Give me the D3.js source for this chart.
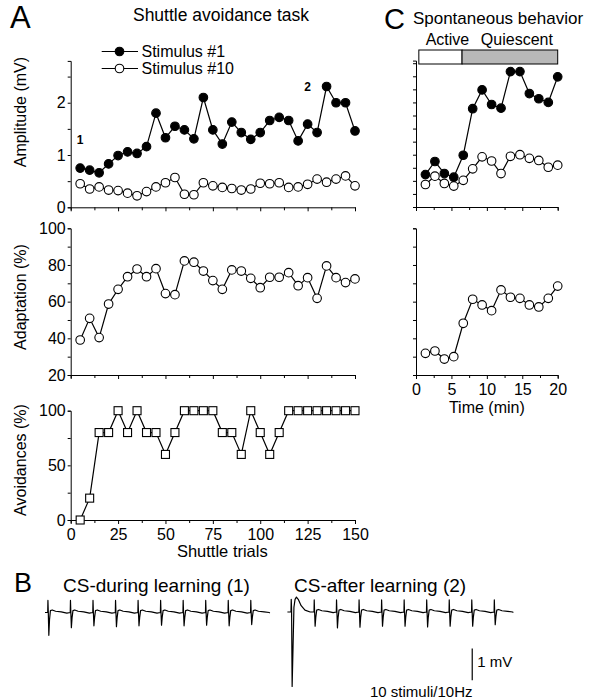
<!DOCTYPE html>
<html>
<head>
<meta charset="utf-8">
<script src="https://cdn.jsdelivr.net/npm/d3@7"></script>
<style>
    body { margin: 0; background: #fff; }
    svg text { font-family: "Liberation Sans", Arial, Helvetica, sans-serif; fill: #000; }
    .axis path, .axis line { stroke: #000; stroke-width: 1; }
</style>
</head>
<body>
<div id="chart"></div>
<script>
// ---- panel A data (shuttle avoidance task) ----
const trials = [5, 10, 15, 20, 25, 30, 35, 40, 45, 50, 55, 60, 65, 70, 75,
    80, 85, 90, 95, 100, 105, 110, 115, 120, 125, 130, 135, 140, 145, 150];
const ampStim1 = [0.75, 0.71, 0.66, 0.83, 0.99, 1.06, 1.03, 1.16, 1.80, 1.33, 1.55, 1.48, 1.31, 2.10, 1.48,
    1.21, 1.63, 1.43, 1.30, 1.43, 1.66, 1.72, 1.66, 1.27, 1.59, 1.43, 2.31, 2.00, 2.00, 1.46];
const ampStim10 = [0.45, 0.35, 0.39, 0.33, 0.32, 0.27, 0.22, 0.30, 0.39, 0.47, 0.57, 0.25, 0.24, 0.47, 0.41,
    0.38, 0.36, 0.33, 0.35, 0.46, 0.45, 0.47, 0.38, 0.39, 0.44, 0.54, 0.48, 0.54, 0.60, 0.41];
const adaptation = [39.1, 50.9, 40.4, 58.7, 66.7, 73.6, 77.8, 73.6, 78.0, 64.4, 63.8, 82.2, 81.5, 76.7, 71.5,
    66.7, 77.3, 76.7, 72.7, 67.6, 73.3, 73.3, 75.8, 68.7, 73.1, 61.8, 79.5, 73.1, 70.4, 72.4];
const avoidances = [0, 20, 80, 80, 100, 80, 100, 80, 80, 60, 80, 100, 100, 100, 100,
    80, 80, 60, 100, 80, 60, 80, 100, 100, 100, 100, 100, 100, 100, 100];

// ---- panel C data (spontaneous behavior) ----
const timeMin = [1.33, 2.67, 4, 5.33, 6.67, 8, 9.33, 10.67, 12, 13.33, 14.67, 16, 17.33, 18.67, 20];
const spAmpStim1 = [0.62, 0.87, 0.64, 0.57, 0.99, 1.88, 2.24, 1.96, 1.89, 2.59, 2.59, 2.17, 2.07, 2.00, 2.49];
const spAmpStim10 = [0.43, 0.59, 0.45, 0.40, 0.51, 0.73, 0.96, 0.88, 0.64, 0.97, 1.00, 0.93, 0.89, 0.76, 0.80];
const spAdaptation = [31.8, 33.1, 28.7, 30.0, 48.2, 61.3, 58.2, 55.1, 66.4, 62.4, 61.8, 58.2, 57.1, 61.8, 68.5];
const phaseNames = ["Active", "Quiescent"];
const phaseStart = [0.4, 6.5];
const phaseEnd = [6.5, 20];

// ---- panel B data (recorded traces, ms / mV) ----
const stimMs1 = [12, 112, 212, 312, 412, 512, 612, 712, 812, 912];
const respMv1 = [0.72, 0.48, 0.42, 0.45, 0.42, 0.40, 0.42, 0.40, 0.42, 0.38];
const stimMs2 = [118, 217, 317, 417, 517, 617, 717, 817, 917];
const respMv2 = [0.45, 0.50, 0.48, 0.45, 0.45, 0.47, 0.45, 0.45, 0.40];
// shape of one stimulus response: artefact part + response part scaled by amplitude
const spikeMs = [0, 1, 2.5, 5, 8, 12, 20, 35, 60, 85];
const spikeArtMv = [0, 0.38, 0.05, 0, -0.05, 0.06, 0.08, 0.04, 0.02, -0.02];
const spikeShape = [0, 0, 0, -1, -0.25, 0, 0, 0, 0, 0];
// first (large) field potential of trace 2
const firstFpStart = 16;
const firstFpMs = [0, 1, 2.5, 5, 9, 13, 18, 24, 32, 45, 62, 85];
const firstFpMv = [0, 0.40, 0.10, -2.35, -1.10, 0.15, 0.40, 0.47, 0.40, 0.20, 0.06, 0];

// ---- tick values ----
const trialTicks = [0, 25, 50, 75, 100, 125, 150];
const trialMinor = [12.5, 37.5, 62.5, 87.5, 112.5, 137.5];
const ampTicks = [0, 1, 2];
const ampMinor = [0.5, 1.5, 2.5];
const adaptTicks = [20, 40, 60, 80, 100];
const adaptMinor = [30, 50, 70, 90];
const avoidTicks = [0, 50, 100];
const avoidMinor = [25, 75];
const timeTicks = [0, 5, 10, 15, 20];
const timeMinor = [2.5, 7.5, 12.5, 17.5];
const spAmpTicks = [0, 0.25, 0.5, 0.75, 1, 1.25, 1.5, 1.75, 2, 2.25, 2.5, 2.75];

const svg = d3.select("#chart")
    .append("svg")
    .attr("width", 589)
    .attr("height", 700);

// scales
const xA = d3.scaleLinear().domain([0, 150]).range([70.7, 355]);
const yAmp = d3.scaleLinear().domain([0, 2.8]).range([207.3, 60.9]);
const yAdapt = d3.scaleLinear().domain([20, 100]).range([375, 228.3]);
const yAvoid = d3.scaleLinear().domain([0, 100]).range([520, 410.7]);
const xC = d3.scaleLinear().domain([0, 20]).range([416, 557.7]);
const yAmpC = d3.scaleLinear().domain([0, 2.8]).range([207, 60.6]);

// axis helpers
function bottomAxis(scale, y, major, minor, labels) {
    const g = svg.append("g").attr("class", "axis")
        .attr("transform", `translate(0,${y})`)
        .call(d3.axisBottom(scale).tickValues(major.concat(minor).sort((a, b) => a - b))
            .tickSizeOuter(0).tickSize(3).tickPadding(6)
            .tickFormat(d => labels && major.includes(d) ? d : ""));
    g.selectAll(".tick text").style("font-size", "16px");
    g.selectAll(".tick line").attr("y2", d => major.includes(d) ? 4 : 3);
    return g;
}

function leftAxis(scale, x, major, minor, labels) {
    const g = svg.append("g").attr("class", "axis")
        .attr("transform", `translate(${x},0)`)
        .call(d3.axisLeft(scale).tickValues(major.concat(minor).sort((a, b) => a - b))
            .tickSizeOuter(0).tickSize(3).tickPadding(2)
            .tickFormat(d => labels && major.includes(d) ? d : ""));
    g.selectAll(".tick text").style("font-size", "16px");
    return g;
}

function yTitle(text, x, y) {
    svg.append("text")
        .attr("transform", `translate(${x},${y}) rotate(-90)`)
        .attr("text-anchor", "middle")
        .style("font-size", "16px")
        .text(text);
}

function series(xs, ys, x, y, filled, shape) {
    svg.append("path")
        .datum(ys)
        .attr("fill", "none")
        .attr("stroke", "#000")
        .attr("stroke-width", 1.2)
        .attr("d", d3.line().x((d, i) => x(xs[i])).y(d => y(d)));
    if (shape === "square") {
        svg.selectAll(null)
            .data(ys)
            .enter()
            .append("rect")
            .attr("x", (d, i) => x(xs[i]) - 4)
            .attr("y", d => y(d) - 4)
            .attr("width", 8)
            .attr("height", 8)
            .attr("fill", "#fff")
            .attr("stroke", "#000")
            .attr("stroke-width", 1.1);
    } else {
        svg.selectAll(null)
            .data(ys)
            .enter()
            .append("circle")
            .attr("cx", (d, i) => x(xs[i]))
            .attr("cy", d => y(d))
            .attr("r", 4.3)
            .attr("fill", filled ? "#000" : "#fff")
            .attr("stroke", "#000")
            .attr("stroke-width", 1.1);
    }
}

// ---------------- panel A ----------------
svg.append("text").attr("x", 10).attr("y", 28).style("font-size", "31px").text("A");
svg.append("text").attr("x", 221).attr("y", 21).attr("text-anchor", "middle")
    .style("font-size", "17.5px").text("Shuttle avoidance task");

// amplitude
leftAxis(yAmp, xA(0), ampTicks, ampMinor, true);
bottomAxis(xA, yAmp(0), trialTicks, trialMinor, false);
yTitle("Amplitude (mV)", 26, 112);
series(trials, ampStim10, xA, yAmp, false);
series(trials, ampStim1, xA, yAmp, true);
svg.append("text").attr("x", xA(5)).attr("y", 144).attr("text-anchor", "middle")
    .style("font-size", "12px").style("font-weight", "bold").text("1");
svg.append("text").attr("x", xA(125)).attr("y", 91).attr("text-anchor", "middle")
    .style("font-size", "12px").style("font-weight", "bold").text("2");

// legend
const legend = [{label: "Stimulus #1", filled: true, y: 51.5}, {label: "Stimulus #10", filled: false, y: 68.5}];
legend.forEach(l => {
    svg.append("line").attr("x1", 101.7).attr("x2", 138).attr("y1", l.y).attr("y2", l.y)
        .attr("stroke", "#000").attr("stroke-width", 1.2);
    svg.append("circle").attr("cx", 119.5).attr("cy", l.y).attr("r", 4.3)
        .attr("fill", l.filled ? "#000" : "#fff").attr("stroke", "#000").attr("stroke-width", 1.1);
    svg.append("text").attr("x", 141.5).attr("y", l.y + 5.8).style("font-size", "16px").text(l.label);
});

// adaptation
leftAxis(yAdapt, xA(0), adaptTicks, adaptMinor, true);
bottomAxis(xA, yAdapt(20), trialTicks, trialMinor, false);
yTitle("Adaptation (%)", 26, 297);
series(trials, adaptation, xA, yAdapt, false);

// avoidances
leftAxis(yAvoid, xA(0), avoidTicks, avoidMinor, true);
bottomAxis(xA, yAvoid(0), trialTicks, trialMinor, true);
yTitle("Avoidances (%)", 26, 460);
series(trials, avoidances, xA, yAvoid, false, "square");
svg.append("text").attr("x", xA(80)).attr("y", 557).attr("text-anchor", "middle")
    .style("font-size", "16.5px").text("Shuttle trials");

// ---------------- panel C ----------------
svg.append("text").attr("x", 384).attr("y", 29).style("font-size", "29px").text("C");
svg.append("text").attr("x", 498).attr("y", 24).attr("text-anchor", "middle")
    .style("font-size", "17px").text("Spontaneous behavior");

phaseNames.forEach((name, i) => {
    svg.append("rect")
        .attr("x", xC(phaseStart[i]))
        .attr("y", 50)
        .attr("width", xC(phaseEnd[i]) - xC(phaseStart[i]))
        .attr("height", 14)
        .attr("fill", i === 0 ? "#fff" : "#b8b8b8")
        .attr("stroke", "#000")
        .attr("stroke-width", 1);
    svg.append("text")
        .attr("x", (xC(phaseStart[i]) + xC(phaseEnd[i])) / 2 + 7)
        .attr("y", 45)
        .attr("text-anchor", "middle")
        .style("font-size", "16px")
        .text(name);
});

leftAxis(yAmpC, xC(0), spAmpTicks, [], false);
bottomAxis(xC, yAmpC(0), timeTicks, timeMinor, false);
series(timeMin, spAmpStim10, xC, yAmpC, false);
series(timeMin, spAmpStim1, xC, yAmpC, true);

leftAxis(yAdapt, xC(0), adaptTicks, adaptMinor, false);
bottomAxis(xC, yAdapt(20), timeTicks, timeMinor, true);
series(timeMin, spAdaptation, xC, yAdapt, false);
svg.append("text").attr("x", xC(10)).attr("y", 413).attr("text-anchor", "middle")
    .style("font-size", "16px").text("Time (min)");

// ---------------- panel B ----------------
svg.append("text").attr("x", 14).attr("y", 592).style("font-size", "27px").text("B");
svg.append("text").attr("x", 63).attr("y", 592).style("font-size", "19px").text("CS-during learning (1)");
svg.append("text").attr("x", 294).attr("y", 592).style("font-size", "19px").text("CS-after learning (2)");

function buildTrace(stims, amps, endMs) {
    const pts = [[0, 0]];
    stims.forEach((s, k) => {
        spikeMs.forEach((t, i) => pts.push([s + t, spikeArtMv[i] + amps[k] * spikeShape[i]]));
    });
    pts.push([endMs, 0]);
    return pts.sort((a, b) => a[0] - b[0]);
}

const trace1 = buildTrace(stimMs1, respMv1, 995);
const trace2 = buildTrace(stimMs2, respMv2, 1000)
    .concat(firstFpMs.map((t, i) => [firstFpStart + t, firstFpMv[i]]))
    .sort((a, b) => a[0] - b[0]);

const xB1 = d3.scaleLinear().domain([0, 1000]).range([45, 270.4]);
const xB2 = d3.scaleLinear().domain([0, 1000]).range([287.4, 512.8]);
const yB1 = d3.scaleLinear().domain([-1, 1]).range([612.5 + 31.7, 612.5 - 31.7]);
const yB2 = d3.scaleLinear().domain([-1, 1]).range([612 + 31.7, 612 - 31.7]);

[[trace1, xB1, yB1], [trace2, xB2, yB2]].forEach(([tr, x, y]) => {
    svg.append("path")
        .datum(tr)
        .attr("fill", "none")
        .attr("stroke", "#000")
        .attr("stroke-width", 1.2)
        .attr("stroke-linejoin", "round")
        .attr("d", d3.line().x(d => x(d[0])).y(d => y(d[1])));
});

// scale bar 1 mV
svg.append("line")
    .attr("x1", xB2(820)).attr("x2", xB2(820))
    .attr("y1", yB2(-1.15)).attr("y2", yB2(-2.15))
    .attr("stroke", "#000").attr("stroke-width", 1.2);
svg.append("text").attr("x", xB2(820) + 5).attr("y", 667).style("font-size", "15px").text("1 mV");
svg.append("text").attr("x", 370).attr("y", 697).style("font-size", "15px").text("10 stimuli/10Hz");
</script>
</body>
</html>
